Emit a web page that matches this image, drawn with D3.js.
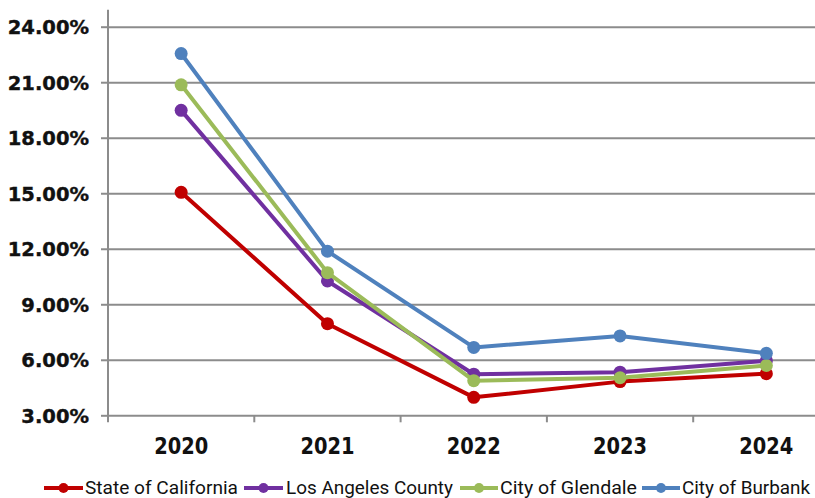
<!DOCTYPE html>
<html>
<head>
<meta charset="utf-8">
<script src="https://cdn.jsdelivr.net/npm/d3@7"></script>
<style>
  body { margin: 0; background: #fff; }
  svg { display: block; }
</style>
</head>
<body>
<div id="chart"></div>
<script>
// values (percent)
const years = ['2020', '2021', '2022', '2023', '2024'];
const seriesNames = ['State of California', 'Los Angeles County', 'City of Glendale', 'City of Burbank'];
const california = [15.05, 7.95, 3.97, 4.82, 5.25];
const laCounty = [19.48, 10.26, 5.22, 5.33, 5.95];
const glendale = [20.86, 10.71, 4.87, 5.03, 5.69];
const burbank = [22.55, 11.87, 6.67, 7.29, 6.35];
const yTicks = [3, 6, 9, 12, 15, 18, 21, 24];

const colors = ['#C00000', '#7030A0', '#9BBB59', '#4F81BD'];
const series = [california, laCounty, glendale, burbank].map((vals, i) => ({
	name: seriesNames[i],
	color: colors[i],
	values: vals.map((v, j) => ({ year: years[j], v: v }))
}));

const W = 815, H = 498;
const gridColor = '#8c8c8c';

const svg = d3.select('#chart').append('svg')
	.attr('width', W)
	.attr('height', H);

// plot runs past the right edge, like the cropped reference
const x = d3.scaleBand().domain(years).range([108, 839.5]);
const y = d3.scaleLinear().domain([3, 24]).range([415.3, 26.7]);
const cx = d => x(d) + x.bandwidth() / 2;

// horizontal gridlines
svg.append('g')
	.attr('transform', 'translate(108,0)')
	.call(d3.axisLeft(y).tickValues(yTicks).tickSize(-(W - 108)).tickFormat(''))
	.call(g => g.select('.domain').remove())
	.call(g => g.selectAll('line').attr('stroke', gridColor).attr('stroke-width', 2));

// y axis with labels
const yAxis = svg.append('g')
	.attr('transform', 'translate(108,0)')
	.call(d3.axisLeft(y).tickValues(yTicks).tickSize(7).tickPadding(12)
		.tickFormat(d => d.toFixed(2) + '%'));
yAxis.select('.domain').remove();
yAxis.selectAll('line').attr('stroke', gridColor).attr('stroke-width', 2);
yAxis.selectAll('text')
	.attr('fill', '#111')
	.attr('stroke', '#111')
	.attr('stroke-width', 0.4)
	.attr('font-family', '"DejaVu Sans", Verdana, sans-serif')
	.attr('font-weight', 'bold')
	.attr('font-size', 19.5)
	.attr('dy', '0.36em');

// vertical axis line
svg.append('line')
	.attr('x1', 108).attr('x2', 108)
	.attr('y1', y(24) - 17).attr('y2', y(3) + 7)
	.attr('stroke', gridColor).attr('stroke-width', 2);

// category boundary ticks
svg.append('g').selectAll('line')
	.data(years.slice(1))
	.enter().append('line')
	.attr('x1', d => x(d)).attr('x2', d => x(d))
	.attr('y1', y(3)).attr('y2', y(3) + 7)
	.attr('stroke', gridColor).attr('stroke-width', 2);

// category labels
svg.append('g').selectAll('text')
	.data(years)
	.enter().append('text')
	.attr('x', d => cx(d))
	.attr('y', 454)
	.attr('text-anchor', 'middle')
	.attr('font-family', '"DejaVu Sans", Verdana, sans-serif')
	.attr('font-weight', 'bold')
	.attr('font-size', 23)
	.attr('textLength', 54)
	.attr('lengthAdjust', 'spacingAndGlyphs')
	.attr('fill', '#111')
	.text(d => d);

// lines and markers
const line = d3.line().x(d => cx(d.year)).y(d => y(d.v));
const sg = svg.append('g').selectAll('g')
	.data(series)
	.enter().append('g');
sg.append('path')
	.attr('d', d => line(d.values))
	.attr('fill', 'none')
	.attr('stroke', d => d.color)
	.attr('stroke-width', 4)
	.attr('stroke-linejoin', 'round');
sg.selectAll('circle')
	.data(d => d.values.map(p => ({ ...p, color: d.color })))
	.enter().append('circle')
	.attr('cx', d => cx(d.year))
	.attr('cy', d => y(d.v))
	.attr('r', 6.5)
	.attr('fill', d => d.color);

// legend
const legendY = 488;
const legendItems = [
	{ x0: 44, x1: 83, tx: 85, tw: 153 },
	{ x0: 244, x1: 283, tx: 286, tw: 167 },
	{ x0: 460, x1: 498, tx: 500, tw: 137 },
	{ x0: 642, x1: 680, tx: 682, tw: 128 }
];
const lg = svg.append('g').selectAll('g')
	.data(series)
	.enter().append('g');
lg.append('line')
	.attr('x1', (d, i) => legendItems[i].x0)
	.attr('x2', (d, i) => legendItems[i].x1)
	.attr('y1', legendY).attr('y2', legendY)
	.attr('stroke', d => d.color)
	.attr('stroke-width', 4);
lg.append('circle')
	.attr('cx', (d, i) => (legendItems[i].x0 + legendItems[i].x1) / 2)
	.attr('cy', legendY)
	.attr('r', 5)
	.attr('fill', d => d.color);
lg.append('text')
	.attr('x', (d, i) => legendItems[i].tx)
	.attr('y', 493.5)
	.attr('font-family', 'Roboto, "DejaVu Sans", sans-serif')
	.attr('font-size', 19)
	.attr('textLength', (d, i) => legendItems[i].tw)
	.attr('lengthAdjust', 'spacingAndGlyphs')
	.attr('fill', '#111')
	.text(d => d.name);
</script>
</body>
</html>
